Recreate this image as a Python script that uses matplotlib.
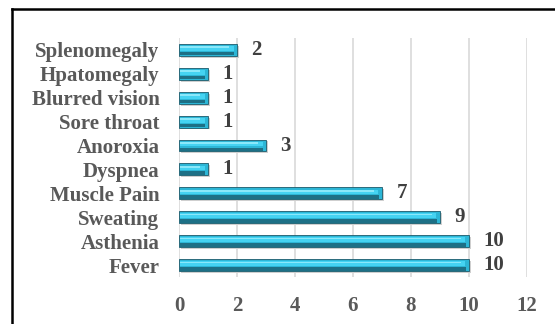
import matplotlib.pyplot as plt
from matplotlib.lines import Line2D

# symptoms, bottom to top as drawn
symptoms = ['Fever', 'Asthenia', 'Sweating', 'Muscle Pain', 'Dyspnea',
            'Anoroxia', 'Sore throat', 'Blurred vision', 'Hpatomegaly', 'Splenomegaly']
counts = [10, 10, 9, 7, 1, 3, 1, 1, 1, 2]
xticks = [0, 2, 4, 6, 8, 10, 12]

plt.rcParams['font.family'] = ['Liberation Serif', 'DejaVu Serif']
plt.rcParams['font.weight'] = 'bold'

fig = plt.figure(figsize=(5.55, 3.24), dpi=100)
ax = fig.add_axes([0.3225, 0.145, 0.627, 0.738])

pos = list(range(len(symptoms)))
h = 0.5

# shadow, base, dark lower band, light upper band to fake the bevel
ax.barh([p - 0.08 for p in pos], counts, height=h, left=0.06, color='#cfcfcf', zorder=2)
ax.barh(pos, counts, height=h, color='#2cb6d6', edgecolor='#1b5a6b', linewidth=0.6, zorder=3)
ax.barh([p - h * 0.32 for p in pos], [c - 0.12 for c in counts], height=h * 0.3, left=0.03,
        color='#1d7086', zorder=4)
ax.barh([p + h * 0.12 for p in pos], [c - 0.15 for c in counts], height=h * 0.4, left=0.03,
        color='#45d3f2', zorder=4)
ax.barh([p + h * 0.22 for p in pos], [c - 0.3 for c in counts], height=h * 0.14, left=0.03,
        color='#8ae8fa', zorder=5)

for p, c in zip(pos, counts):
    ax.text(c + 0.5, p, str(c), va='center', ha='left', fontsize=15,
            fontweight='bold', color='#404040', zorder=6)

ax.set_xlim(0, 12)
ax.set_ylim(-0.5, len(symptoms) - 0.5)
ax.set_xticks(xticks)
ax.set_yticks(pos)
ax.set_yticklabels(symptoms)
ax.tick_params(axis='both', length=0, labelsize=15, labelcolor='#595959')
ax.tick_params(axis='x', pad=14)
ax.tick_params(axis='y', pad=14)
for lab in ax.get_xticklabels() + ax.get_yticklabels():
    lab.set_fontweight('bold')

ax.grid(axis='x', color='#d9d9d9', linewidth=1.2, zorder=0)
ax.set_axisbelow(True)
for s in ax.spines.values():
    s.set_visible(False)

# outer frame: only the left and top edges fall inside the picture
x0, y0 = 11.5 / 555, 1 - 8.5 / 324
fig.lines.append(Line2D([x0, x0], [0, y0], transform=fig.transFigure, color='black', linewidth=1.8))
fig.lines.append(Line2D([x0, 1], [y0, y0], transform=fig.transFigure, color='black', linewidth=1.8))

fig.savefig('out.png', dpi=100)
